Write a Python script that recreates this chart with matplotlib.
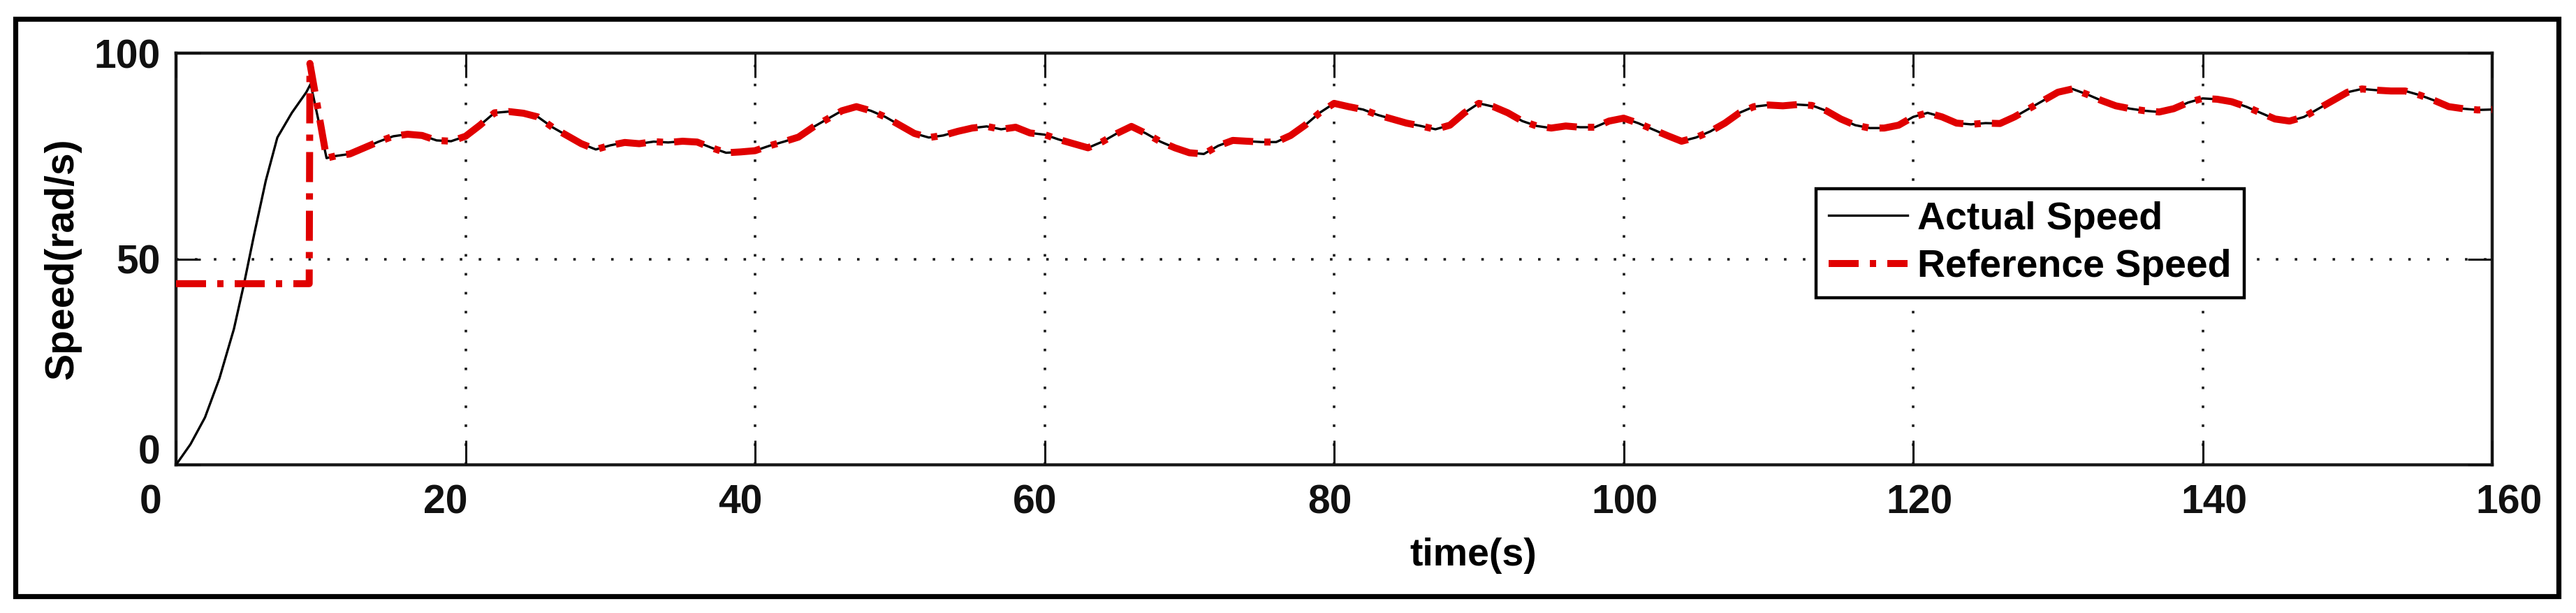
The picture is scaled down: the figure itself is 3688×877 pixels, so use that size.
import matplotlib
matplotlib.use("Agg")
import matplotlib.pyplot as plt
from matplotlib.patches import Rectangle
from matplotlib.transforms import ScaledTranslation

# ---------------- data ----------------
startup_time = [0, 1, 2, 3, 4, 4.7, 5.4, 6.2, 7, 8, 9, 9.3]
startup_speed = [0, 5, 11.5, 21, 33, 44, 56, 69, 79.5, 85.5, 90.5, 92.5]

ref_startup_time = [0, 9.2, 9.25]
ref_startup_speed = [44, 44, 97.5]

track_time = [10.4] + list(range(11, 161))
track_speed = [
    74.5, 75.0, 75.5, 77.0, 78.5, 79.8, 80.3, 80.0, 78.8, 78.6,   # 10.4, 11-19
    79.8, 82.5, 85.5, 85.8, 85.4, 84.5, 82.0, 80.0, 78.0, 76.6,   # 20-29
    77.6, 78.3, 78.0, 78.5, 78.3, 78.6, 78.4, 77.0, 75.8, 76.0,   # 30-39
    76.3, 77.5, 78.5, 79.6, 82.0, 84.0, 86.0, 87.0, 86.0, 84.5,   # 40-49
    82.5, 80.5, 79.5, 80.0, 81.0, 81.8, 82.2, 81.5, 82.0, 80.6,   # 50-59
    80.2, 79.0, 78.0, 77.0, 78.5, 80.5, 82.2, 80.5, 78.5, 77.0,   # 60-69
    75.8, 75.5, 77.5, 78.8, 78.6, 78.4, 78.4, 80.0, 82.5, 85.5,   # 70-79
    87.8, 87.0, 86.3, 85.0, 84.0, 83.0, 82.3, 81.5, 82.5, 85.5,   # 80-89
    87.8, 87.0, 85.5, 83.5, 82.3, 81.8, 82.3, 82.0, 82.0, 83.5,   # 90-99
    84.2, 83.0, 81.5, 80.0, 78.6, 79.5, 81.0, 83.0, 85.5, 87.0,   # 100-109
    87.4, 87.2, 87.5, 87.3, 86.0, 84.0, 82.5, 81.8, 81.8, 82.5,   # 110-119
    84.5, 85.5, 84.5, 83.0, 82.7, 83.0, 82.9, 84.5, 86.5, 88.5,   # 120-129
    90.5, 91.3, 90.0, 88.5, 87.2, 86.5, 86.0, 85.7, 86.5, 88.0,   # 130-139
    89.0, 88.8, 88.2, 87.0, 85.5, 84.0, 83.5, 84.5, 86.5, 88.5,   # 140-149
    90.5, 91.3, 91.0, 90.8, 90.8, 89.8, 88.5, 87.0, 86.5, 86.2,   # 150-159
    86.3,                                                         # 160
]

x_ticks = [0, 20, 40, 60, 80, 100, 120, 140, 160]
y_ticks = [0, 50, 100]
series_labels = ["Actual Speed", "Reference Speed"]

actual_time = startup_time + track_time
actual_speed = startup_speed + track_speed
ref_time = ref_startup_time + track_time
ref_speed = ref_startup_speed + track_speed

# ---------------- figure ----------------
W, H, DPI = 3688, 877, 100
plt.rcParams["font.family"] = ["Liberation Sans", "DejaVu Sans"]
plt.rcParams["font.weight"] = "bold"

fig = plt.figure(figsize=(W / DPI, H / DPI), dpi=DPI)
fig.patch.set_facecolor("white")

# outer black frame
fig.add_artist(Rectangle((22 / W, (877 - 853) / H), (3663 - 22) / W, (853 - 27) / H,
                         transform=fig.transFigure, fill=False, lw=5.2,
                         edgecolor="black", zorder=10))

ax = fig.add_axes([252 / W, (877 - 665) / H, (3568 - 252) / W, (665 - 76) / H])

ax.plot(actual_time, actual_speed, color="black", lw=2.4,
        label=series_labels[0], zorder=3)
ax.plot(ref_time, ref_speed, color="#e00000", lw=7.2,
        linestyle=(0, (4.3, 1.6, 0.9, 1.6)), label=series_labels[1], zorder=4)

ax.set_xlim(0, 160)
ax.set_ylim(0, 100)
ax.set_xticks(x_ticks)
ax.set_yticks(y_ticks)
ax.set_xticklabels([str(v) for v in x_ticks])
ax.set_yticklabels([str(v) for v in y_ticks])

ax.tick_params(axis="both", which="major", direction="in", length=25, width=2.2,
               top=True, right=True, labelsize=41, colors="#111111")
ax.tick_params(axis="x", pad=20)
ax.tick_params(axis="y", pad=16)

for sp in ax.spines.values():
    sp.set_linewidth(3.2)
    sp.set_color("#1a1a1a")

ax.grid(True, linestyle=(0, (1.0, 6.5)), color="#1a1a1a", lw=2.6)
ax.set_axisbelow(False)

ax.set_xlabel("time(s)", fontsize=40, fontweight="bold")
ax.set_ylabel("Speed(rad/s)", fontsize=41, fontweight="bold")
ax.xaxis.set_label_coords(0.560, -0.221)
ax.xaxis.label.set_verticalalignment("center")
ax.yaxis.set_label_coords(-0.0492, 0.5)
ax.yaxis.label.set_verticalalignment("center")

leg = ax.legend(loc="upper left", bbox_to_anchor=(0.708, 0.671),
                borderaxespad=0, frameon=True, fancybox=False,
                framealpha=1, edgecolor="black", handlelength=2.05,
                handletextpad=0.25, labelspacing=0.3, borderpad=0.32,
                prop={"weight": "bold", "size": 40})
leg.get_frame().set_linewidth(3.2)

# small per-label offsets as in the reference
for tick, v in zip(ax.xaxis.get_major_ticks(), x_ticks):
    dx = (-36 + 60 * v / 160) / DPI
    tick.label1.set_transform(tick.label1.get_transform() +
                              ScaledTranslation(dx, 0, fig.dpi_scale_trans))
for tick, v in zip(ax.yaxis.get_major_ticks(), y_ticks):
    if v == 0:
        tick.label1.set_transform(tick.label1.get_transform() +
                                  ScaledTranslation(0, 22 / DPI, fig.dpi_scale_trans))

fig.savefig("out.png", dpi=DPI)
